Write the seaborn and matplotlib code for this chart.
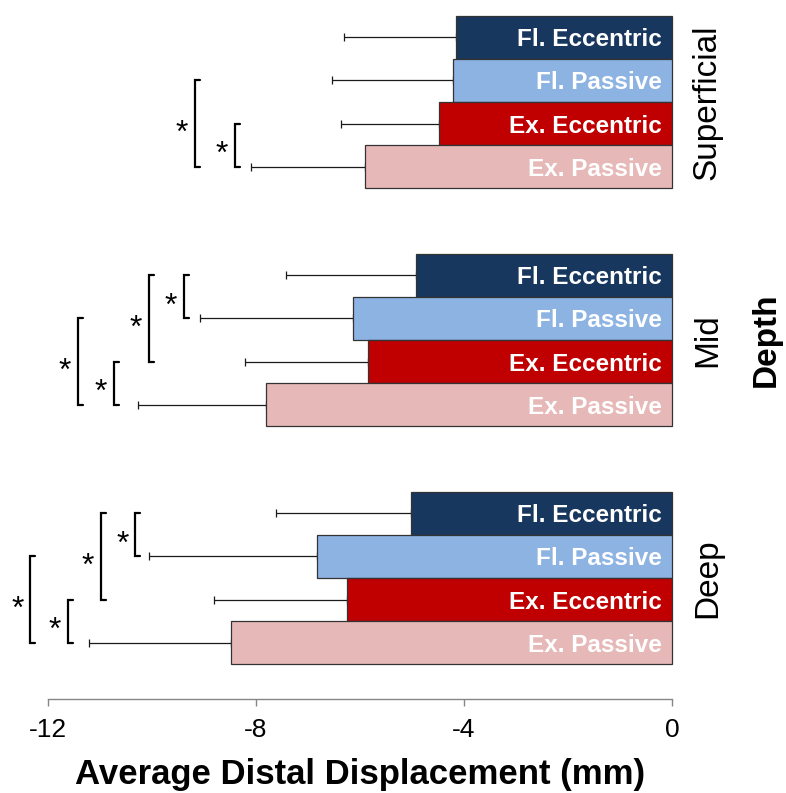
import matplotlib
matplotlib.use("Agg")
import matplotlib.pyplot as plt
import seaborn as sns
import pandas as pd
import numpy as np

depths = ["Superficial", "Mid", "Deep"]
conditions = ["Fl. Eccentric", "Fl. Passive", "Ex. Eccentric", "Ex. Passive"]
colors = ["#17375E", "#8DB3E2", "#C00000", "#E6B9B8"]

superficial_mean = [-4.16, -4.21, -4.48, -5.91]
superficial_sd = [2.15, 2.33, 1.88, 2.19]
mid_mean = [-4.93, -6.13, -5.85, -7.81]
mid_sd = [2.50, 2.94, 2.37, 2.46]
deep_mean = [-5.02, -6.82, -6.25, -8.48]
deep_sd = [2.60, 3.23, 2.55, 2.74]

x_ticks = [-12, -8, -4, 0]
x_tick_labels = ["-12", "-8", "-4", "0"]

# significance brackets
sig_depth = ["Superficial", "Superficial", "Mid", "Mid", "Mid", "Mid",
             "Deep", "Deep", "Deep", "Deep"]
sig_a = ["Fl. Passive", "Ex. Eccentric", "Fl. Eccentric", "Fl. Eccentric",
         "Fl. Passive", "Ex. Eccentric", "Fl. Eccentric", "Fl. Eccentric",
         "Fl. Passive", "Ex. Eccentric"]
sig_b = ["Ex. Passive", "Ex. Passive", "Fl. Passive", "Ex. Eccentric",
         "Ex. Passive", "Ex. Passive", "Fl. Passive", "Ex. Eccentric",
         "Ex. Passive", "Ex. Passive"]
sig_x = [-9.17, -8.40, -9.38, -10.06, -11.42, -10.74, -10.32, -10.99, -12.34, -11.62]

rows = []
for d, means, sds in zip(depths, [superficial_mean, mid_mean, deep_mean],
                         [superficial_sd, mid_sd, deep_sd]):
    for c, m, s in zip(conditions, means, sds):
        rows.append({"depth": d, "condition": c, "mean": m, "sd": s})
df = pd.DataFrame(rows)

sns.set_style("white")
plt.rcParams["font.family"] = ["Liberation Sans", "DejaVu Sans"]
plt.rcParams["text.color"] = "black"
plt.rcParams["axes.labelcolor"] = "black"
plt.rcParams["xtick.labelcolor"] = "black"

W, H = 786, 793
fig = plt.figure(figsize=(W / 100, H / 100), dpi=100)
ax = fig.add_axes([0, 1 - 699 / H, 680 / W, 699 / H])

sns.barplot(data=df, x="mean", y="depth", hue="condition", order=depths,
            hue_order=conditions, palette=colors, orient="h", width=0.7227,
            errorbar=None, edgecolor="#333333", linewidth=0.9, saturation=1,
            legend=False, ax=ax, zorder=2)

# collect bar centres
centers = {}
for h, cont in enumerate(ax.containers):
    for p in cont.patches:
        yc = p.get_y() + p.get_height() / 2
        d = depths[int(round(yc))]
        c = conditions[h]
        centers[(d, c)] = (yc, p.get_width())

ys, xs, errs = [], [], []
for _, r in df.iterrows():
    yc, w = centers[(r["depth"], r["condition"])]
    ys.append(yc)
    xs.append(r["mean"])
    errs.append(r["sd"])
ax.errorbar(xs, ys, xerr=[errs, np.zeros(len(errs))], fmt="none",
            ecolor="#1a1a1a", elinewidth=0.9, capsize=2.6, capthick=0.9, zorder=1)

# bar labels
for (d, c), (yc, w) in centers.items():
    ax.text(-0.19, yc, c, ha="right", va="center_baseline", color="white",
            fontsize=17.5, fontweight="bold", zorder=3)

# brackets and stars
arm = 5 / 52
for d, a, b, x in zip(sig_depth, sig_a, sig_b, sig_x):
    ya = centers[(d, a)][0]
    yb = centers[(d, b)][0]
    ax.plot([x + arm, x, x, x + arm], [ya, ya, yb, yb], color="black",
            lw=1.6, solid_joinstyle="miter", zorder=2)
    ax.annotate("*", xy=(x, (ya + yb) / 2), xytext=(-9.4, -0.57 * 23),
                textcoords="offset points", ha="center", va="baseline",
                fontsize=23, color="black")

# group labels
for i, d in enumerate(depths):
    ax.text(0.68, i, d, rotation=90, ha="center", va="center", fontsize=24,
            color="black")
ax.text(1.81, 1, "Depth", rotation=90, ha="center", va="center", fontsize=24,
        fontweight="bold", color="black")

ax.set_xlim(-672 / 52, 8 / 52)
ax.set_ylim(2 + 121 / 238, -102 / 238)
ax.set_xticks(x_ticks)
ax.set_xticklabels(x_tick_labels)
ax.set_yticks([])
ax.set_ylabel("")
ax.set_xlabel("Average Distal Displacement (mm)", fontsize=25,
              fontweight="bold", labelpad=11, color="black")
ax.xaxis.label.set_x((360) / 680)
for s in ["top", "right", "left"]:
    ax.spines[s].set_visible(False)
ax.spines["bottom"].set_bounds(-12, 0)
ax.spines["bottom"].set_color("#868686")
ax.spines["bottom"].set_linewidth(1)
ax.tick_params(axis="x", direction="out", length=5, width=1, color="#868686",
               labelsize=19, pad=9, bottom=True, labelcolor="black")
ax.set_facecolor("none")

fig.savefig("out.png", dpi=100)
